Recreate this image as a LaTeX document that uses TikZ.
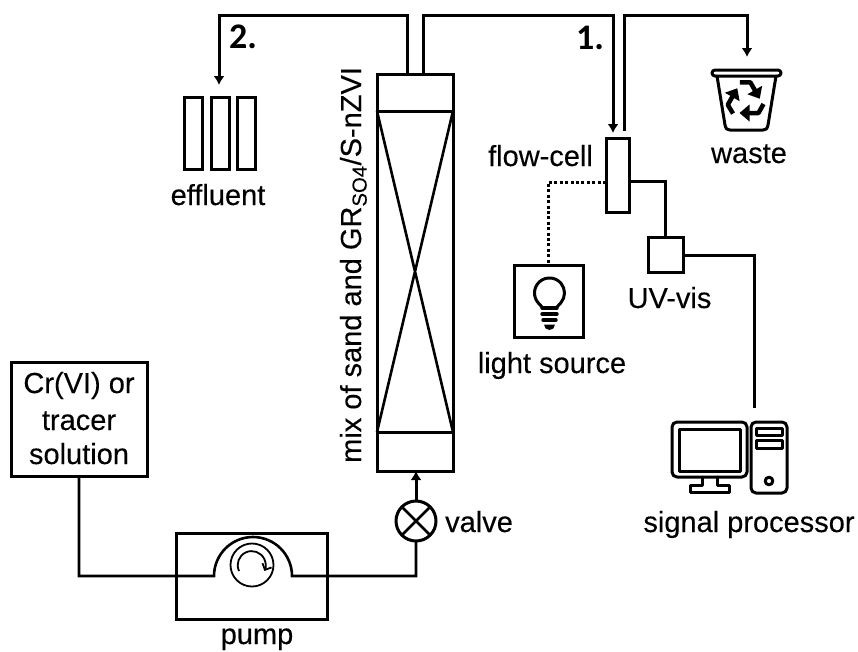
\documentclass[tikz,border=0pt]{standalone}
\usepackage{fontspec}
\setmainfont{Liberation Sans}[RawFeature={embolden=0.25}]
\newfontfamily\boldlabel{Carlito}
\usetikzlibrary{arrows.meta}
\tikzset{
  x=1pt,y=-1pt,
  tube/.style={line width=3pt,line join=miter},
  thin tube/.style={line width=2.6pt},
  flow/.style={tube,-{Latex[length=9pt,width=11pt]}},
  unit/.style={draw,line width=3pt,inner sep=0pt,outer sep=0pt,fill=none},
  txt/.style={font=\fontsize{29}{34}\selectfont,inner sep=0pt,anchor=base},
  bold label/.style={font=\boldlabel\bfseries\fontsize{36}{40}\selectfont,inner sep=0pt,anchor=base west},
  icon/.style={line width=3pt,line join=round,line cap=round},
}
\begin{document}
\begin{tikzpicture}
\useasboundingbox (0,0) rectangle (858,651);
% units
\node[unit,minimum width=76pt,minimum height=397pt] (column) at (415,272.5) {};
\node[unit,minimum width=18pt,minimum height=72pt] (effa) at (193,133) {};
\node[unit,minimum width=18pt,minimum height=72pt] (effb) at (220,133) {};
\node[unit,minimum width=18pt,minimum height=72pt] (effc) at (246,133) {};
\node[unit,minimum width=23pt,minimum height=74pt] (cell) at (617.5,175) {};
\node[unit,minimum width=35pt,minimum height=35pt] (uv) at (665.5,254.5) {};
\node[unit,minimum width=69pt,minimum height=72pt] (light) at (548.5,301) {};
\node[unit,minimum width=136pt,minimum height=114pt] (source) at (79,419) {};
\node[unit,minimum width=151pt,minimum height=86pt] (pump) at (251.5,576) {};
\node[unit,circle,minimum size=40pt] (valve) at (416,521) {};
\draw[line width=2.6pt] (valve.45) -- (valve.225) (valve.135) -- (valve.315);
% column internals
\coordinate (sa) at (377,111); \coordinate (sb) at (453,111);
\coordinate (sc) at (377,432); \coordinate (sd) at (453,432);
\draw[tube] (sa) -- (sb) (sc) -- (sd);
\draw[line width=2.6pt] (sa) -- (sd) (sb) -- (sc);
% free ends
\coordinate (toeff) at (219,85);
\coordinate (topl) at (219,15);
\coordinate (topr) at (613,15);
\coordinate (tocell) at (613,133);
\coordinate (fromcell) at (624,131);
\coordinate (topw) at (747,15);
\coordinate (towaste) at (747,57);
\coordinate (cellout) at (629,181);
\coordinate (cellin) at (606,182);
\coordinate (uvout) at (683,255);
\coordinate (pcin) at (754,408);
% connectors
\draw[flow] ([xshift=-8pt]column.north) |- (topl) -- (toeff);
\draw[flow] ([xshift=8pt]column.north) |- (topr) -- (tocell);
\draw[flow] (fromcell) |- (topw) -- (towaste);
\draw[tube] (cellout) -| (uv.north);
\draw[tube] (uvout) -| (pcin);
\draw[line width=3pt,dash pattern=on 3pt off 2.4pt] (cellin) -| (light.north);
% pump
\coordinate (pa) at (214,576);
\coordinate (pb) at (292,576);
\draw[thin tube] (source.south) |- (pa) arc[start angle=180,end angle=360,radius=39] -| (valve.south);
\draw[flow] (valve.north) -- (valve.north |- column.south);
\node[draw,circle,line width=1.8pt,minimum size=43pt,inner sep=0pt] (rotor) at (252,565) {};
\coordinate (ra) at (239,571);
\draw[line width=1.8pt,-{Straight Barb[length=5pt,width=10pt]}] (ra) arc[start angle=155,end angle=385,radius=14];
% effluent, labels
\node[txt] (leffluent) at (218,205) {effluent};
\node[bold label] (ltwo) at (229,48) {2.};
\node[bold label] (lone) at (576,49) {1.};
\node[txt] (lcell) at (540.5,166) {flow-cell};
\node[txt] (lwaste) at (749,163) {waste};
\node[txt] (luv) at (669.5,308) {UV-vis};
\node[txt] (llight) at (552,373) {light source};
\node[txt] (lpc) at (749,532) {signal processor};
\node[txt] (lsa) at (79,393) {Cr(VI) or};
\node[txt] (lsb) at (79,430) {tracer};
\node[txt] (lsc) at (79,464) {solution};
\node[txt] (lpump) at (257,644) {pump};
\node[txt,anchor=base west] (lvalve) at (445,532) {valve};
\node[txt,anchor=base west,rotate=90] (lcol) at (361,463) {mix of sand and GR\textsubscript{SO4}/S-nZVI};
% bulb icon
\draw[icon] (542,307) -- (538,302.6) arc[start angle=140,end angle=400,radius=15] -- (557,307);
\draw[line width=3.4pt,line cap=round] (542,308) -- (557,308) (542,314) -- (557,314) (543,320) -- (556,320);
\fill (544,324.5) -- (555,324.5) arc[start angle=0,end angle=180,radius=5.5] -- cycle;
% bin icon
\draw[icon] (717,76) -- (725,125) .. controls (726,129) and (727,130) .. (730,130) -- (763,130) .. controls (766,130) and (767,129) .. (768,125) -- (776,76);
\draw[icon,rounded corners=3pt] (712,70) -- (781,70) -- (781,76) -- (712,76) -- cycle;
% recycling arrows
\foreach \r in {0,120,240}{
  \begin{scope}[shift={(745.5,100)},rotate=\r]
    \draw[line width=4.5pt,line join=round] (18,4) -- (13,13) -- (2,13);
    \fill (4,4.5) -- (-6,13) -- (4,21.5) -- cycle;
  \end{scope}
}
% computer icon
\draw[icon,rounded corners=5pt] (672,422) rectangle (747,477);
\draw[icon] (679,429) rectangle (740,471);
\draw[icon] (702,477) -- (702,485) -- (690,485) -- (690,492) -- (729,492) -- (729,485) -- (717,485) -- (717,477);
\draw[icon,rounded corners=5pt] (751,422) rectangle (787,493);
\draw[icon] (756,428) rectangle (782,435);
\draw[icon] (756,440) rectangle (782,448);
\draw[icon] (769,481) circle[radius=3.8];
\end{tikzpicture}
\end{document}
